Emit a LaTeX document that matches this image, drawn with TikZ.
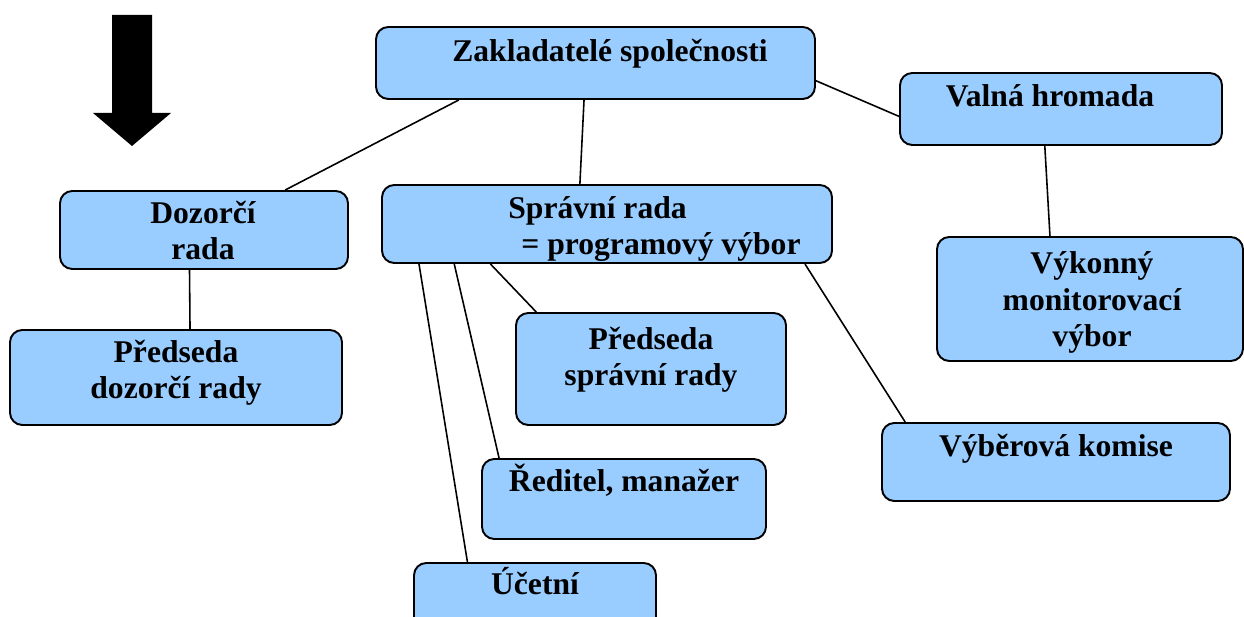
\documentclass[tikz,border=0pt]{standalone}
\usepackage{fontspec}
\setmainfont{Liberation Serif}
\usepackage{tikz}
\usetikzlibrary{calc,fit}
\definecolor{boxblue}{RGB}{153,204,255}

\begin{document}
\begin{tikzpicture}[x=0.02cm,y=-0.02cm,
		orgbox/.style={draw=black, line width=1.1pt, fill=boxblue, rounded corners=7pt, inner sep=0pt},
		orgtext/.style={anchor=base, align=center, inner sep=0pt, font=\fontsize{18}{20.8}\selectfont\bfseries},
		link/.style={draw=black, line width=0.9pt}]
			\useasboundingbox (0,0) rectangle (1244,617);
			\clip (0,0) rectangle (1244,617);
			\fill[black] (112,15) -- (152,15) -- (152,113) -- (171,113) -- (132,146) -- (93,113) -- (112,113) -- cycle;
			\node[orgbox, fit={(376,27) (815,99)}] (zakl) {};
			\node[orgbox, fit={(900,73) (1222,145)}] (valna) {};
			\node[orgbox, fit={(60,191) (348,269)}] (dozor) {};
			\node[orgbox, fit={(10,330) (342,425)}] (preddr) {};
			\node[orgbox, fit={(382,185) (832,263)}] (sprava) {};
			\node[orgbox, fit={(516,313) (786,425)}] (predsr) {};
			\node[orgbox, fit={(482,459) (766,539)}] (reditel) {};
			\node[orgbox, fit={(414,563) (656,640)}] (ucetni) {};
			\node[orgbox, fit={(937,237) (1243,361)}] (vykon) {};
			\node[orgbox, fit={(882,423) (1230,501)}] (vyber) {};
			\node[orgtext] (zaklt) at (610,62) {Zakladatelé společnosti};
			\node[orgtext] (valnat) at (1050,107) {Valná hromada};
			\node[orgtext] (dozort) at (203,260) {Dozorčí\\rada};
			\node[orgtext] (preddrt) at (176,399) {Předseda\\dozorčí rady};
			\node[orgtext, anchor=base west, align=left] (spravat) at (508,255) {Správní rada\\\hspace*{7.4pt}= programový výbor};
			\node[orgtext] (predsrt) at (651,386) {Předseda\\správní rady};
			\node[orgtext] (reditelt) at (624,492) {Ředitel, manažer};
			\node[orgtext] (ucetnit) at (535,595) {Účetní};
			\node[orgtext] (vykont) at (1092,347) {Výkonný\\monitorovací\\výbor};
			\node[orgtext] (vybert) at (1056,457) {Výběrová komise};
			\draw[link] ($(zakl.south west)!0.19!(zakl.south east)$) -- ($(dozor.north west)!0.78!(dozor.north east)$);
			\draw[link] ($(zakl.south west)!0.474!(zakl.south east)$) -- ($(sprava.north west)!0.44!(sprava.north east)$);
			\draw[link] ($(zakl.north east)!0.74!(zakl.south east)$) -- ($(valna.north west)!0.6!(valna.south west)$);
			\draw[link] ($(dozor.south west)!0.45!(dozor.south east)$) -- ($(preddr.north west)!0.542!(preddr.north east)$);
			\draw[link] ($(valna.south west)!0.45!(valna.south east)$) -- ($(vykon.north west)!0.37!(vykon.north east)$);
			\draw[link] ($(sprava.south west)!0.242!(sprava.south east)$) -- ($(predsr.north west)!0.078!(predsr.north east)$);
			\draw[link] ($(sprava.south west)!0.162!(sprava.south east)$) -- ($(reditel.north west)!0.063!(reditel.north east)$);
			\draw[link] ($(sprava.south west)!0.084!(sprava.south east)$) -- ($(ucetni.north west)!0.223!(ucetni.north east)$);
			\draw[link] ($(sprava.south west)!0.938!(sprava.south east)$) -- ($(vyber.north west)!0.069!(vyber.north east)$);
		\end{tikzpicture}
\end{document}
